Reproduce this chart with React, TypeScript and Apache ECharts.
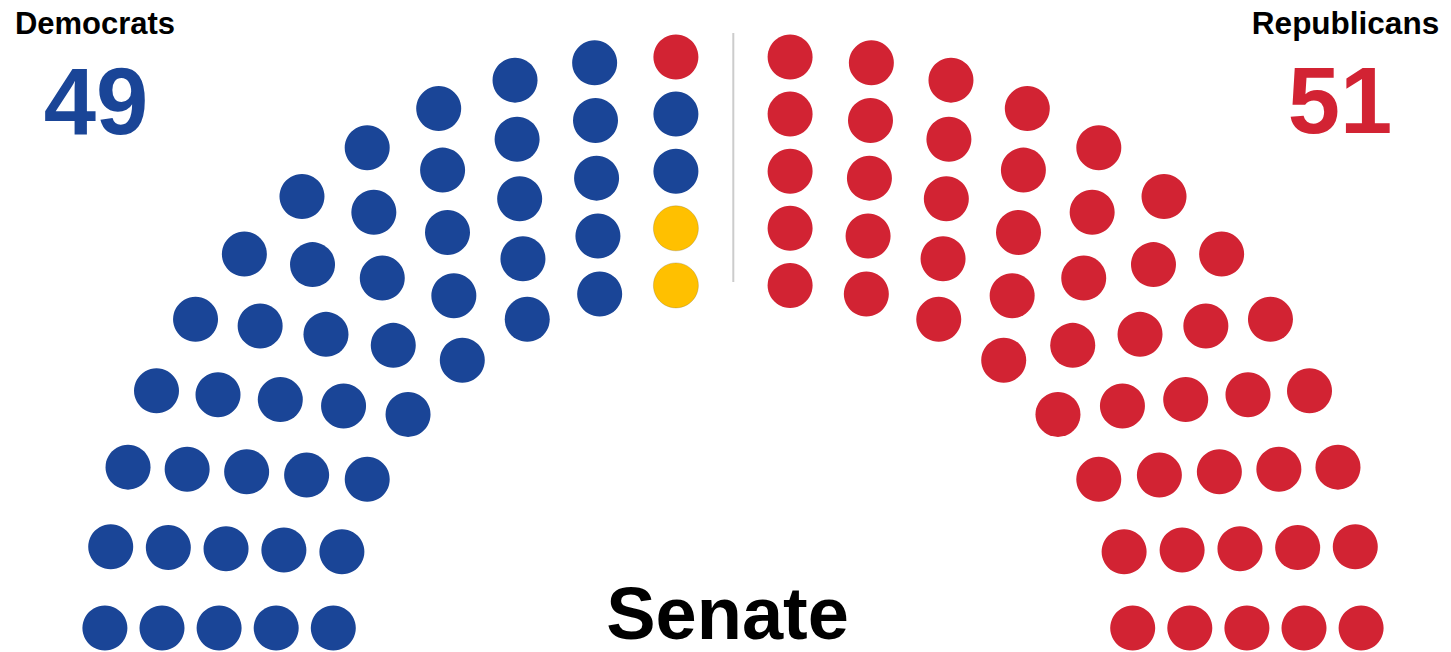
import React, { useEffect, useRef } from "react";
import * as echarts from "echarts";

// ---- data ----
const PARTIES = ["Democrats", "Independents", "Republicans"];
const PARTY_SEATS = [47, 2, 51];
const PARTY_COLORS = ["#1a4597", "#ffc000", "#d22333"];
// concentric rows (outer -> inner), radius in seat units, seats in each quarter arc
const ROW_RADII = [10, 9, 8, 7, 6];
const ROW_SEATS_PER_SIDE = [12, 11, 10, 9, 8];
// order of rows among seats that share the same angle (index = row)
const TIE_RANK = [4, 0, 1, 2, 3];
const LEFT_LABEL = "Democrats";
const LEFT_TOTAL = "49";
const RIGHT_LABEL = "Republicans";
const RIGHT_TOTAL = "51";
const TITLE = "Senate";

type Seat = { x: number; y: number; t: number; row: number };

function layoutSeats(): number[][][] {
  const ordered: Seat[] = [];
  for (const side of [-1, 1]) {
    const seats: Seat[] = [];
    ROW_RADII.forEach((r, row) => {
      const n = ROW_SEATS_PER_SIDE[row];
      for (let i = 0; i < n; i++) {
        const t = i / (n - 1);
        const a = (t * Math.PI) / 2;
        seats.push({ x: side * (1 + r * Math.cos(a)), y: r * Math.sin(a), t, row });
      }
    });
    seats.sort((p, q) => {
      const d = side < 0 ? p.t - q.t : q.t - p.t;
      if (Math.abs(d) > 1e-9) return d;
      return side < 0 ? TIE_RANK[p.row] - TIE_RANK[q.row] : TIE_RANK[q.row] - TIE_RANK[p.row];
    });
    ordered.push(...seats);
  }
  const groups: number[][][] = PARTIES.map(() => []);
  let idx = 0;
  PARTY_SEATS.forEach((count, p) => {
    for (let k = 0; k < count; k++) {
      const s = ordered[idx++];
      if (s) groups[p].push([s.x, s.y]);
    }
  });
  return groups;
}

const FONT = "Liberation Sans, Arial, Helvetica, sans-serif";
const UNIT = 57.1; // px per seat unit
const CX = 733; // px of x = 0
const BASE_Y = 628; // px of y = 0
const W = 1451;
const H = 652;

export default function App() {
  const ref = useRef<HTMLDivElement>(null);
  useEffect(() => {
    if (!ref.current) return;
    const chart = echarts.init(ref.current, undefined, { renderer: "svg" });
    const groups = layoutSeats();
    chart.setOption({
      animation: false,
      backgroundColor: "#ffffff",
      grid: { left: 0, right: 0, top: 0, bottom: 0 },
      xAxis: { type: "value", min: -CX / UNIT, max: (W - CX) / UNIT, show: false },
      yAxis: { type: "value", min: -(H - BASE_Y) / UNIT, max: BASE_Y / UNIT, show: false },
      series: PARTIES.map((name, p) => ({
        name,
        type: "scatter",
        data: groups[p],
        symbol: "circle",
        symbolSize: 45,
        silent: true,
        itemStyle:
          p === 1
            ? { color: PARTY_COLORS[p], borderColor: "rgba(120,100,40,0.45)", borderWidth: 0.6, opacity: 1 }
            : { color: PARTY_COLORS[p], opacity: 1 },
      })),
      graphic: [
        {
          type: "line",
          shape: { x1: 733.3, y1: 33, x2: 733.3, y2: 282 },
          style: { stroke: "#cccccc", lineWidth: 2 },
          silent: true,
        },
        {
          type: "text",
          x: 95,
          y: 23,
          style: { text: LEFT_LABEL, font: `bold 31px ${FONT}`, fill: "#000", align: "center", verticalAlign: "middle", lineHeight: 30 },
        },
        {
          type: "text",
          x: 96,
          y: 101,
          style: { text: LEFT_TOTAL, font: `bold 94px ${FONT}`, fill: PARTY_COLORS[0], align: "center", verticalAlign: "middle", lineHeight: 80 },
        },
        {
          type: "text",
          x: 1345.5,
          y: 23,
          style: { text: RIGHT_LABEL, font: `bold 31.5px ${FONT}`, fill: "#000", align: "center", verticalAlign: "middle", lineHeight: 30 },
        },
        {
          type: "text",
          x: 1340,
          y: 100,
          style: { text: RIGHT_TOTAL, font: `bold 94px ${FONT}`, fill: PARTY_COLORS[2], align: "center", verticalAlign: "middle", lineHeight: 80 },
        },
        {
          type: "text",
          x: 727.5,
          y: 613,
          style: { text: TITLE, font: `bold 74px ${FONT}`, fill: "#000", align: "center", verticalAlign: "middle", lineHeight: 62 },
        },
      ],
    });
    return () => chart.dispose();
  }, []);
  return <div ref={ref} style={{ position: "absolute", left: 0, top: 0, width: W, height: H }} />;
}
